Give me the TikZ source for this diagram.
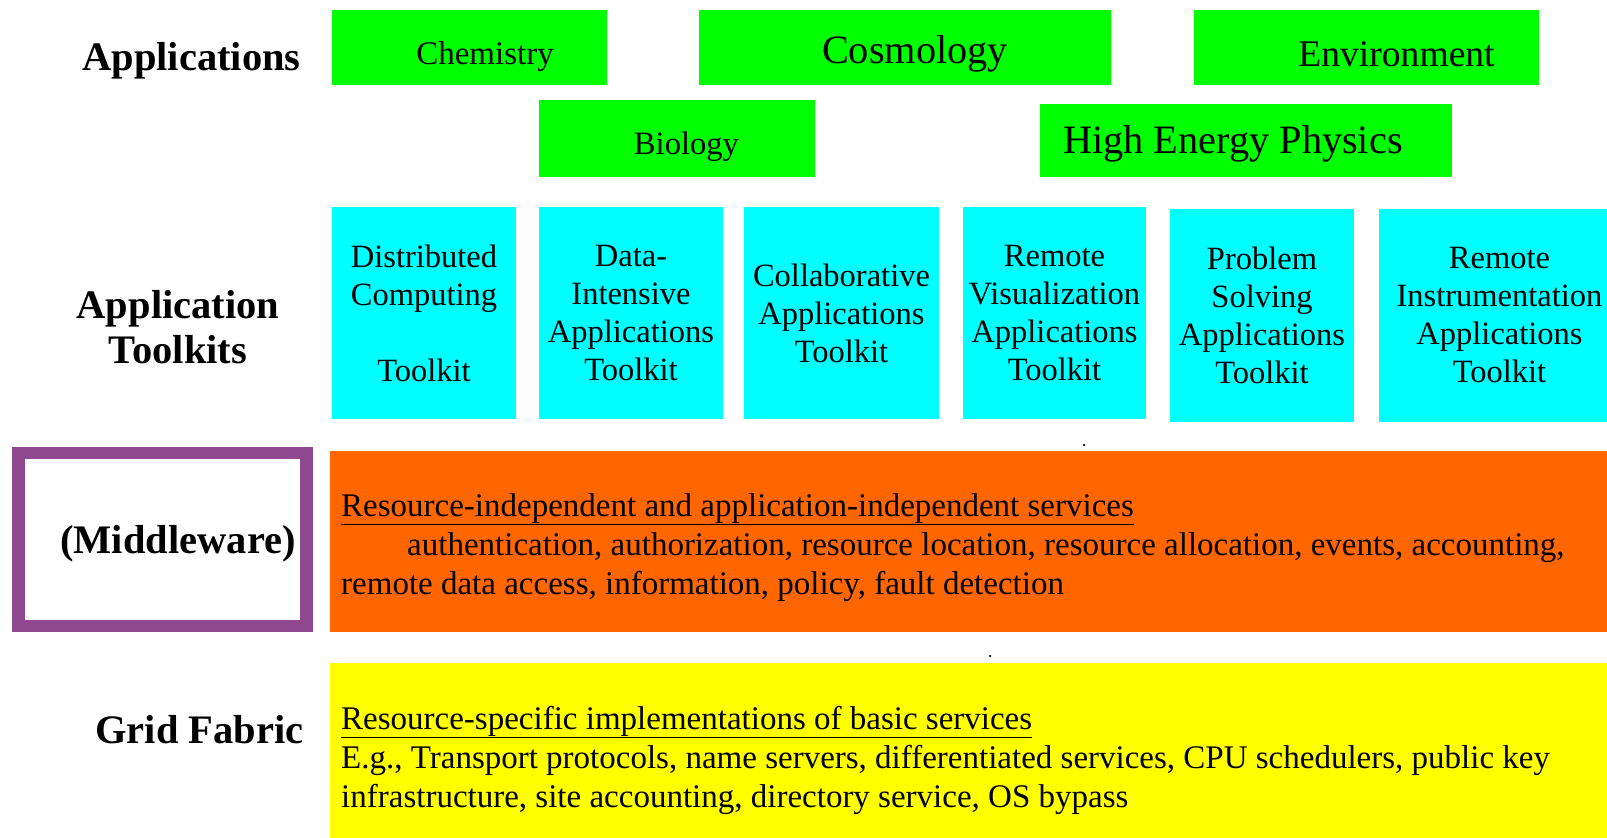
\documentclass[tikz,border=0pt]{standalone}
\usepackage{fontspec}
\setmainfont{Liberation Serif}
\definecolor{appgreen}{HTML}{00FF00}
\definecolor{tkcyan}{HTML}{00FFFF}
\definecolor{mworange}{HTML}{FF6600}
\definecolor{fabyellow}{HTML}{FFFF00}
\definecolor{mwpurple}{HTML}{904890}
\tikzset{
  block/.style={inner sep=0, outer sep=0, draw=none},
  head/.style={font=\fontsize{40.5}{45}\selectfont\bfseries, inner sep=0},
  gtext/.style={inner sep=0, anchor=base},
  tk/.style={block, fill=tkcyan, align=center, font=\fontsize{32.5}{38}\selectfont},
  body/.style={inner sep=0, anchor=base west, font=\fontsize{33}{39}\selectfont},
  dotmark/.style={circle, fill=black, inner sep=0, minimum size=2.5}
}
\begin{document}
\begin{tikzpicture}[x=1pt,y=-1pt]
\useasboundingbox (0,0) rectangle (1607,838);
\clip (0,0) rectangle (1607,838);
\fill[white] (0,0) rectangle (1607,838);
% Applications
\node[block, fill=appgreen, minimum width=275, minimum height=75] (chem) at (469.5,47.5) {};
\node[block, fill=appgreen, minimum width=412, minimum height=75] (cosmo) at (905,47.5) {};
\node[block, fill=appgreen, minimum width=345, minimum height=75] (env) at (1366.5,47.5) {};
\node[block, fill=appgreen, minimum width=276, minimum height=77] (bio) at (677,138.5) {};
\node[block, fill=appgreen, minimum width=412, minimum height=73] (hep) at (1246,140.5) {};
\node[gtext, font=\fontsize{33}{38}\selectfont] (chemt) at (485,64) {Chemistry};
\node[gtext, font=\fontsize{40.3}{45}\selectfont] (cosmot) at (915,63) {Cosmology};
\node[gtext, font=\fontsize{37.6}{45}\selectfont] (envt) at (1396.5,66) {Environment};
\node[gtext, font=\fontsize{32.6}{38}\selectfont] (biot) at (686.5,154) {Biology};
\node[gtext, font=\fontsize{40.3}{45}\selectfont] (hept) at (1233,153) {High Energy Physics};
% Toolkits
\node[tk, minimum height=212, text width=184] (tk1) at (424,313) {Distributed\\Computing\\~\\Toolkit};
\node[tk, minimum height=212, text width=184] (tk2) at (631,313) {Data-\\Intensive\\Applications\\Toolkit};
\node[tk, minimum height=212, text width=195] (tk3) at (841.5,313) {Collaborative\\Applications\\Toolkit};
\node[tk, minimum height=212, text width=183] (tk4) at (1054.5,313) {Remote\\Visualization\\Applications\\Toolkit};
\node[tk, minimum height=213, text width=184] (tk5) at (1262,315.5) {Problem\\Solving\\Applications\\Toolkit};
\node[tk, minimum height=213, text width=241] (tk6) at (1499.5,315.5) {Remote\\Instrumentation\\Applications\\Toolkit};
% Middleware and fabric
\node[block, fill=mworange, minimum width=1277, minimum height=181] (mw) at (968.5,541.5) {};
\node[block, fill=fabyellow, minimum width=1277, minimum height=176] (gf) at (968.5,751) {};
\node[draw=mwpurple, line width=12.5, inner sep=0, minimum width=288, minimum height=173] (mwbox) at (162.5,539.5) {};
\node[dotmark] (dot1) at (1084,445) {};
\node[dotmark] (dot2) at (990,656) {};
% Labels
\node[head, anchor=base] (happ) at (191.5,70) {Applications};
\node[head, align=center] (htk) at (178,327) {Application\\Toolkits};
\node[head, anchor=base] (hmw) at (178,553) {(Middleware)};
\node[head, anchor=base] (hgf) at (199.5,743) {Grid Fabric};
% Body text
\node[body] (mw1) at (341,516) {\underline{Resource-independent and application-independent services}};
\node[body] (mw2) at (407,555) {authentication, authorization, resource location, resource allocation, events, accounting,};
\node[body] (mw3) at (341,594) {remote data access, information, policy, fault detection};
\node[body] (gf1) at (341,729) {\underline{Resource-specific implementations of basic services}};
\node[body] (gf2) at (341,768) {E.g., Transport protocols, name servers, differentiated services, CPU schedulers, public key};
\node[body] (gf3) at (341,807) {infrastructure, site accounting, directory service, OS bypass};
\end{tikzpicture}
\end{document}
